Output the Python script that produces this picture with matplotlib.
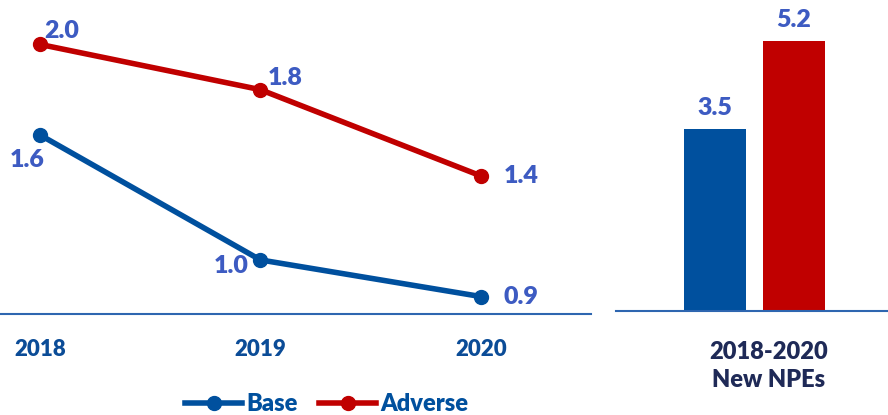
import matplotlib
matplotlib.use("Agg")
import matplotlib.pyplot as plt
from matplotlib.lines import Line2D

plt.rcParams['font.family'] = ['Lato', 'DejaVu Sans']

years = ["2018", "2019", "2020"]
base = [1.62, 1.04, 0.87]
adverse = [2.04, 1.83, 1.43]
bar_names = ["Base", "Adverse"]
bar_values = [3.5, 5.2]
bar_category = "2018-2020\nNew NPEs"

BLUE = "#00509E"
RED = "#C00000"
LABEL = "#3D5BC2"
TICK = "#0B4C97"
NAVY = "#1F2A57"
AXIS = "#2E66B0"
WT = 'heavy'

W, H = 888, 415
fig = plt.figure(figsize=(W / 100, H / 100), dpi=100)

# Left line chart
ax = fig.add_axes([0, (H - 314) / H, 591 / W, 314 / H])
x = list(range(len(years)))
ax.plot(x, base, color=BLUE, lw=4, marker='o', ms=10, solid_capstyle='round', zorder=3)
ax.plot(x, adverse, color=RED, lw=4, marker='o', ms=10, solid_capstyle='round', zorder=3)
ax.set_xlim(-0.181, 2.5)
ax.set_ylim(0.789, 2.246)
for s in ['top', 'left', 'right']:
    ax.spines[s].set_visible(False)
ax.spines['bottom'].set_color(AXIS)
ax.spines['bottom'].set_linewidth(1.5)
ax.set_yticks([])
ax.set_xticks(x)
ax.set_xticklabels(years, fontsize=16, fontweight=WT, color=TICK)
ax.tick_params(axis='x', length=0, pad=18)

px = 72 / 100
adv_offsets = [((22, 13), 'center'), ((25, 12), 'center'), ((23, 0), 'left')]
base_offsets = [((-13, -25), 'center'), ((-29, -6), 'center'), ((23, 0), 'left')]
for i, v in enumerate(adverse):
    (dx, dy), ha = adv_offsets[i]
    ax.annotate(f"{v:.1f}", (x[i], v), xytext=(dx * px, dy * px), textcoords='offset points',
                ha=ha, va='center', fontsize=18, fontweight=WT, color=LABEL)
for i, v in enumerate(base):
    (dx, dy), ha = base_offsets[i]
    ax.annotate(f"{v:.1f}", (x[i], v), xytext=(dx * px, dy * px), textcoords='offset points',
                ha=ha, va='center', fontsize=18, fontweight=WT, color=LABEL)

# Right bar chart
ax2 = fig.add_axes([616 / W, (H - 311) / H, 272 / W, 311 / H])
bx = list(range(len(bar_values)))
ax2.bar(bx, bar_values, width=0.785, color=[BLUE, RED], zorder=2)
ax2.set_xlim(-1.253, 2.19)
ax2.set_ylim(0, 5.99)
for s in ['top', 'left', 'right']:
    ax2.spines[s].set_visible(False)
ax2.spines['bottom'].set_color(AXIS)
ax2.spines['bottom'].set_linewidth(1.5)
ax2.set_yticks([])
ax2.set_xticks([])
for i, v in enumerate(bar_values):
    ax2.annotate(f"{v:.1f}", (bx[i], v), xytext=(0, 21 * px), textcoords='offset points',
                 ha='center', va='center', fontsize=18, fontweight=WT, color=LABEL)
fig.text(769 / W, 1 - 366 / H, bar_category, ha='center', va='center', fontsize=17,
         fontweight=WT, color=NAVY, linespacing=1.3)

# Legend
handles = [Line2D([], [], color=BLUE, lw=4, marker='o', ms=10),
           Line2D([], [], color=RED, lw=4, marker='o', ms=10)]
leg = fig.legend(handles, bar_names, loc='center', bbox_to_anchor=(327 / W, 1 - 404 / H),
                 ncol=2, frameon=False, handlelength=2.4, handletextpad=0.2,
                 columnspacing=0.9, prop={'weight': WT, 'size': 17})
for t in leg.get_texts():
    t.set_color(BLUE)

fig.savefig("out.png", dpi=100)
